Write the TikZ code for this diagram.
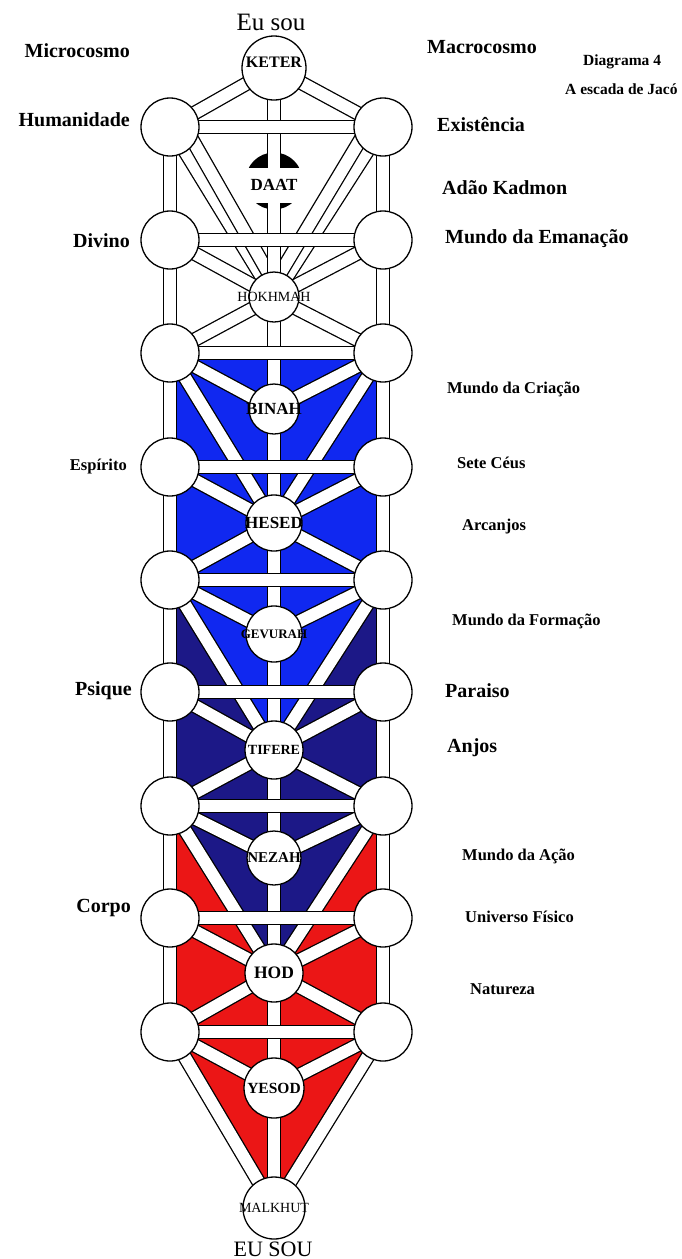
\documentclass[tikz,border=0pt]{standalone}
\usepackage{fontspec}
\setmainfont{Liberation Serif}
\definecolor{beriah}{RGB}{16,40,240}
\definecolor{yetzirah}{RGB}{28,24,135}
\definecolor{assiah}{RGB}{235,22,22}
\pgfdeclarelayer{back}
\pgfsetlayers{back,main}
\newcommand{\siderow}[2]{\node[side] (L#1) at (170,#2) {}; \node[side] (R#1) at (383,#2) {};}

\begin{document}
\begin{tikzpicture}[x=1pt,y=-1pt,
    sefira/.style={draw,fill=white,circle,line width=1.3pt,inner sep=0pt},
    side/.style={sefira,minimum size=58pt},
    inword/.style={font=\bfseries\fontsize{#1}{#1}\selectfont},
    bar/.style={line width=1.3pt,double=white,double distance=12pt},
    tag/.style={inner sep=0pt,font=\bfseries\fontsize{20}{24}\selectfont},
    smalltag/.style={inner sep=0pt,font=\bfseries\fontsize{16.5}{20}\selectfont}]
  \useasboundingbox (0,0) rectangle (682,1259);

  \siderow{1}{127}\siderow{2}{240}\siderow{3}{353}
  \siderow{4}{467}\siderow{5}{580}\siderow{6}{692}
  \siderow{7}{806}\siderow{8}{918}\siderow{9}{1032}

  \node[sefira,minimum size=64pt,label={[inword=16,yshift=6pt]center:KETER}] (keter) at (274,68) {};
  \node[fill=white,minimum width=66pt,minimum height=35pt,inner sep=0pt,inword=17] (daat) at (274,185) {DAAT};
  \node[sefira,minimum size=50pt,label={[font=\fontsize{14}{14}\selectfont]center:HOKHMAH}] (hokhmah) at (274,297) {};
  \node[sefira,minimum size=50pt,label={[inword=17]center:BINAH}] (binah) at (274,409) {};
  \node[sefira,minimum size=56pt,label={[inword=17]center:HESED}] (hesed) at (274,523) {};
  \node[sefira,minimum size=56pt,label={[inword=13]center:GEVURAH}] (gevurah) at (274,634) {};
  \node[sefira,minimum size=58pt,label={[inword=14]center:TIFERE}] (tiferet) at (274,750) {};
  \node[sefira,minimum size=54pt,label={[inword=15]center:NEZAH}] (nezah) at (274,858) {};
  \node[sefira,minimum size=58pt,label={[inword=17.5]center:HOD}] (hod) at (274,973) {};
  \node[sefira,minimum size=60pt,label={[inword=15.5]center:YESOD}] (yesod) at (274,1088) {};
  \node[sefira,minimum size=62pt,label={[font=\fontsize{14}{14}\selectfont]center:MALKHUT}] (malkhut) at (274,1208) {};

  \begin{pgfonlayer}{back}
    \fill[assiah] (L7.center) -- (R7.center) -- (R9.center) -- (malkhut.center) -- (L9.center) -- cycle;
    \fill[yetzirah] (L5.center) -- (R5.center) -- (R7.center) -- (hod.center) -- (L7.center) -- cycle;
    \fill[beriah] (L3.center) -- (R3.center) -- (R5.center) -- (tiferet.center) -- (L5.center) -- cycle;
    \fill ([yshift=4pt]daat.center) circle (28.5pt);
    % long paths
    \draw[bar] (L1.center) -- (hokhmah.center); \draw[bar] (R1.center) -- (hokhmah.center);
    \draw[bar] ([xshift=15pt]L1.center) -- ([xshift=8pt]hokhmah.center);
    \draw[bar] ([xshift=-15pt]R1.center) -- ([xshift=-8pt]hokhmah.center);
    \draw[bar] (L3.center) -- (hesed.center); \draw[bar] (R3.center) -- (hesed.center);
    \draw[bar] (L5.center) -- (tiferet.center); \draw[bar] (R5.center) -- (tiferet.center);
    \draw[bar] (L7.center) -- (hod.center); \draw[bar] (R7.center) -- (hod.center);
    \draw[bar] (L9.center) -- (malkhut.center); \draw[bar] (R9.center) -- (malkhut.center);
    % short paths
    \draw[bar] (keter.center) -- (L1.center); \draw[bar] (keter.center) -- (R1.center);
    \draw[bar] (L2.center) -- (hokhmah.center); \draw[bar] (R2.center) -- (hokhmah.center);
    \draw[bar] (hokhmah.center) -- (L3.center); \draw[bar] (hokhmah.center) -- (R3.center);
    \draw[bar] (L3.center) -- (binah.center); \draw[bar] (R3.center) -- (binah.center);
    \draw[bar] (L4.center) -- (hesed.center); \draw[bar] (R4.center) -- (hesed.center);
    \draw[bar] (hesed.center) -- (L5.center); \draw[bar] (hesed.center) -- (R5.center);
    \draw[bar] (L5.center) -- (gevurah.center); \draw[bar] (R5.center) -- (gevurah.center);
    \draw[bar] (L6.center) -- (tiferet.center); \draw[bar] (R6.center) -- (tiferet.center);
    \draw[bar] (tiferet.center) -- (L7.center); \draw[bar] (tiferet.center) -- (R7.center);
    \draw[bar] (L7.center) -- (nezah.center); \draw[bar] (R7.center) -- (nezah.center);
    \draw[bar] (L8.center) -- (hod.center); \draw[bar] (R8.center) -- (hod.center);
    \draw[bar] (hod.center) -- (L9.center); \draw[bar] (hod.center) -- (R9.center);
    \draw[bar] (L9.center) -- (yesod.center); \draw[bar] (R9.center) -- (yesod.center);
    % pillars
    \draw[bar] (keter.center) -- (malkhut.center);
    \draw[bar] (L1.center) -- (L9.center);
    \draw[bar] (R1.center) -- (R9.center);
    \draw[bar] (L1.center) -- (R1.center); \draw[bar] (L2.center) -- (R2.center);
    \draw[bar] (L3.center) -- (R3.center); \draw[bar] (L4.center) -- (R4.center);
    \draw[bar] (L5.center) -- (R5.center); \draw[bar] (L6.center) -- (R6.center);
    \draw[bar] (L7.center) -- (R7.center); \draw[bar] (L8.center) -- (R8.center);
    \draw[bar] (L9.center) -- (R9.center);
  \end{pgfonlayer}

  \node[anchor=base,inner sep=0pt,font=\fontsize{25}{28}\selectfont] (eusou) at (271,30) {Eu sou};
  \node[anchor=base,inner sep=0pt,font=\fontsize{22}{26}\selectfont] (EUSOU) at (273,1256) {EU SOU};

  \node[tag,anchor=base east] (micro) at (130,57) {Microcosmo};
  \node[tag,anchor=base east] (human) at (130,126) {Humanidade};
  \node[tag,anchor=base east] (divino) at (130,247) {Divino};
  \node[smalltag,anchor=base east] (espirito) at (127,470) {Espírito};
  \node[tag,anchor=base east] (psique) at (132,695) {Psique};
  \node[tag,anchor=base east] (corpo) at (131,912) {Corpo};

  \node[tag,anchor=base west] (macro) at (427,53) {Macrocosmo};
  \node[smalltag,anchor=base west,font=\bfseries\fontsize{15.5}{18}\selectfont] (diagrama) at (583,65) {Diagrama 4};
  \node[smalltag,anchor=base west,font=\bfseries\fontsize{15.5}{18}\selectfont] (escada) at (565,94) {A escada de Jacó};
  \node[tag,anchor=base west] (existencia) at (437,131) {Existência};
  \node[tag,anchor=base west] (adao) at (442,194) {Adão Kadmon};
  \node[tag,anchor=base west] (emanacao) at (445,243) {Mundo da Emanação};
  \node[smalltag,anchor=base west] (criacao) at (447,393) {Mundo da Criação};
  \node[smalltag,anchor=base west] (ceus) at (457,468) {Sete Céus};
  \node[smalltag,anchor=base west] (arcanjos) at (462,530) {Arcanjos};
  \node[smalltag,anchor=base west] (formacao) at (452,625) {Mundo da Formação};
  \node[tag,anchor=base west] (paraiso) at (445,697) {Paraiso};
  \node[tag,anchor=base west] (anjos) at (447,752) {Anjos};
  \node[smalltag,anchor=base west] (acao) at (462,860) {Mundo da Ação};
  \node[smalltag,anchor=base west] (fisico) at (465,922) {Universo Físico};
  \node[smalltag,anchor=base west] (natureza) at (470,994) {Natureza};
\end{tikzpicture}
\end{document}
